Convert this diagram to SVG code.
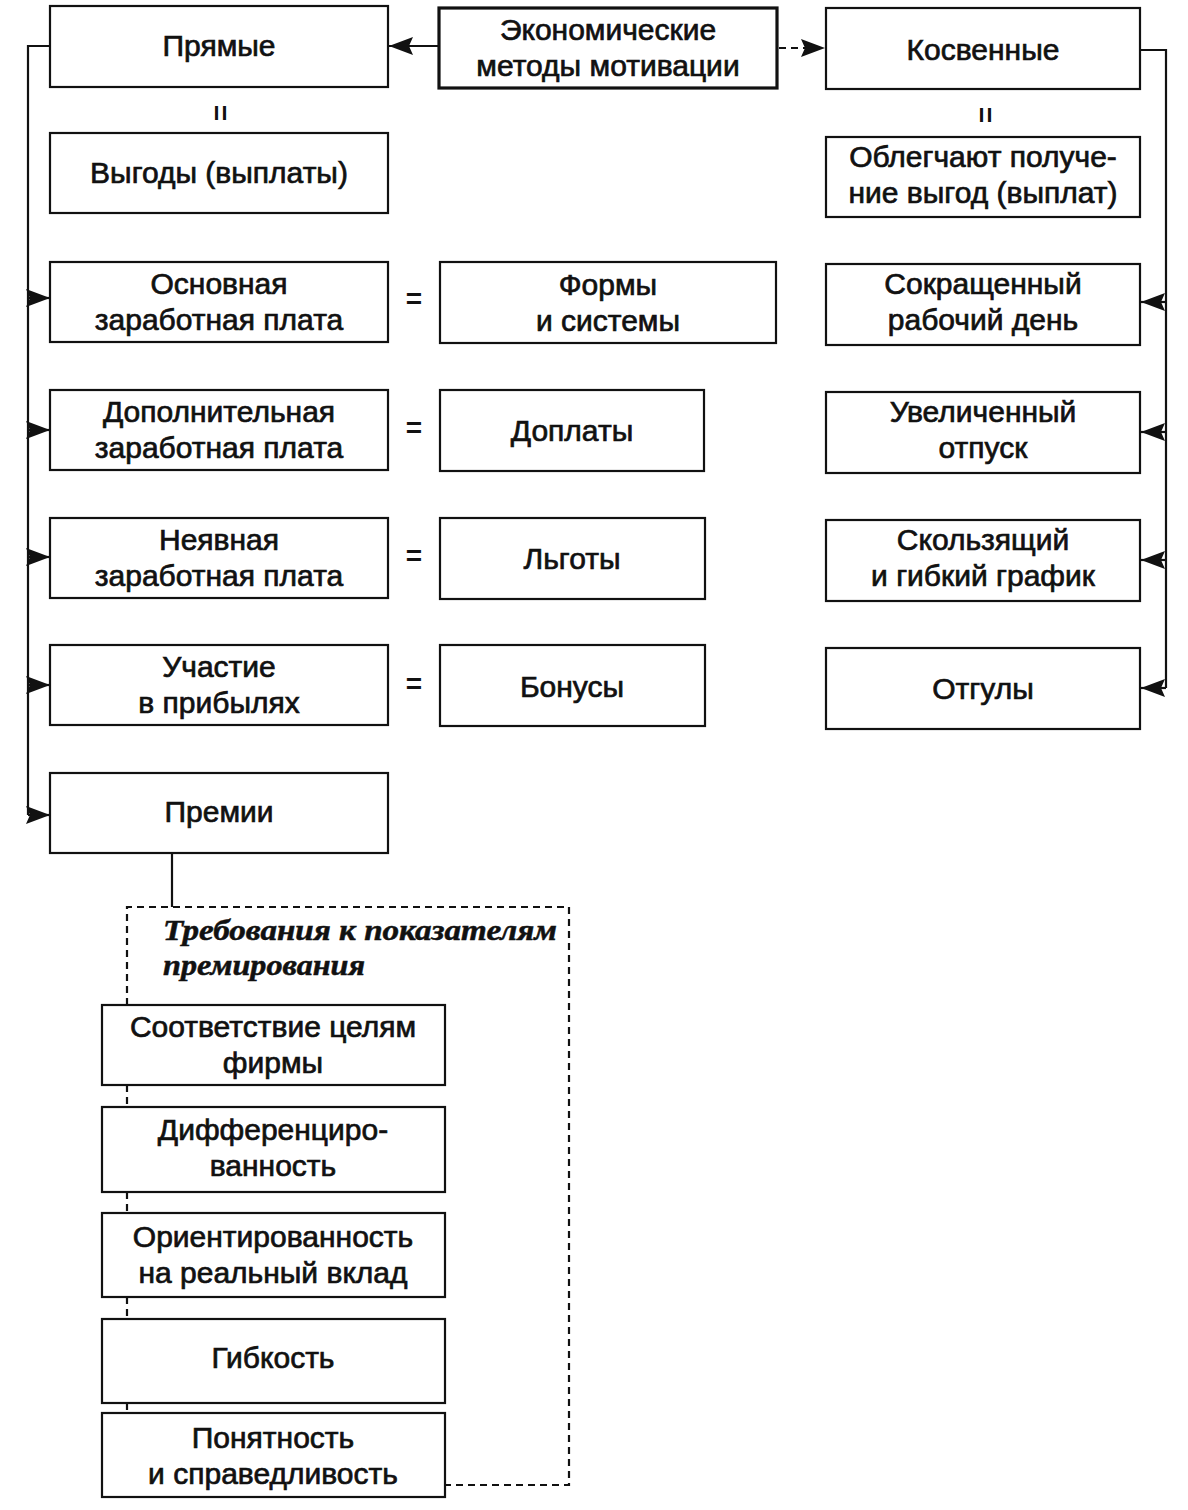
<svg xmlns="http://www.w3.org/2000/svg" width="1188" height="1510" viewBox="0 0 1188 1510">
<defs>
<style>
.box{fill:#fff;stroke:#111;stroke-width:2.2}
.main{fill:#fff;stroke:#111;stroke-width:3.2}
.t{font-family:"Liberation Sans",Arial,sans-serif;font-size:30px;fill:#111;stroke:#111;stroke-width:0.7;text-anchor:middle}
.h{font-family:"Liberation Serif","Times New Roman",serif;font-size:29px;font-weight:bold;font-style:italic;fill:#111;stroke:#111;stroke-width:0.5}
.ln{fill:none;stroke:#111;stroke-width:2.2}
.dash{fill:none;stroke:#111;stroke-width:2.2;stroke-dasharray:7 5}
.eq{font-family:"Liberation Sans",Arial,sans-serif;font-size:28px;font-weight:bold;fill:#111;text-anchor:middle}
</style>
<marker id="ah" viewBox="0 0 24 18" refX="24" refY="9" markerWidth="24" markerHeight="18" markerUnits="userSpaceOnUse" orient="auto">
<path d="M0,0 L24,9 L0,18 L4,9 Z" fill="#111"/>
</marker>
</defs>

<g id="connectors">
<line class="ln" x1="438" y1="46" x2="389" y2="46" marker-end="url(#ah)"/>
<line class="dash" x1="779" y1="48" x2="825" y2="48" marker-end="url(#ah)"/>
<polyline class="ln" points="50,46 28,46 28,815"/>
<line class="ln" x1="28" y1="298" x2="50" y2="298" marker-end="url(#ah)"/>
<line class="ln" x1="28" y1="430" x2="50" y2="430" marker-end="url(#ah)"/>
<line class="ln" x1="28" y1="557" x2="50" y2="557" marker-end="url(#ah)"/>
<line class="ln" x1="28" y1="685" x2="50" y2="685" marker-end="url(#ah)"/>
<line class="ln" x1="28" y1="815" x2="50" y2="815" marker-end="url(#ah)"/>
<polyline class="ln" points="1140,50 1166,50 1166,688"/>
<line class="ln" x1="1166" y1="302" x2="1141" y2="302" marker-end="url(#ah)"/>
<line class="ln" x1="1166" y1="432" x2="1141" y2="432" marker-end="url(#ah)"/>
<line class="ln" x1="1166" y1="560" x2="1141" y2="560" marker-end="url(#ah)"/>
<line class="ln" x1="1166" y1="688" x2="1141" y2="688" marker-end="url(#ah)"/>
<line class="ln" x1="172" y1="853" x2="172" y2="907"/>
<polyline class="dash" points="127,1005 127,907 569,907 569,1485 446,1485"/>
<line class="dash" x1="127" y1="1085" x2="127" y2="1107"/>
<line class="dash" x1="127" y1="1192" x2="127" y2="1213"/>
<line class="dash" x1="127" y1="1297" x2="127" y2="1319"/>
<line class="dash" x1="127" y1="1403" x2="127" y2="1413"/>
</g>

<g id="equals">
<text class="eq" transform="translate(221,113) rotate(90)" y="10">=</text>
<text class="eq" transform="translate(986,115) rotate(90)" y="10">=</text>
<text class="eq" x="414" y="308">=</text>
<text class="eq" x="414" y="437">=</text>
<text class="eq" x="414" y="565">=</text>
<text class="eq" x="414" y="693">=</text>
</g>

<g id="n-main"><rect class="main" x="439" y="8" width="338" height="80"/>
<text class="t" x="608" y="40">Экономические</text><text class="t" x="608" y="76">методы мотивации</text></g>

<g id="n-pryamye"><rect class="box" x="50" y="6" width="338" height="81"/><text class="t" x="219" y="56">Прямые</text></g>
<g id="n-vygody"><rect class="box" x="50" y="133" width="338" height="80"/><text class="t" x="219" y="183">Выгоды (выплаты)</text></g>
<g id="n-kosvennye"><rect class="box" x="826" y="8" width="314" height="81"/><text class="t" x="983" y="60">Косвенные</text></g>
<g id="n-oblegchayut"><rect class="box" x="826" y="137" width="314" height="80"/>
<text class="t" x="983" y="167">Облегчают получе-</text><text class="t" x="983" y="203">ние выгод (выплат)</text></g>

<g id="n-osnovnaya"><rect class="box" x="50" y="262" width="338" height="80"/>
<text class="t" x="219" y="294">Основная</text><text class="t" x="219" y="330">заработная плата</text></g>
<g id="n-dopolnitelnaya"><rect class="box" x="50" y="390" width="338" height="80"/>
<text class="t" x="219" y="422">Дополнительная</text><text class="t" x="219" y="458">заработная плата</text></g>
<g id="n-neyavnaya"><rect class="box" x="50" y="518" width="338" height="80"/>
<text class="t" x="219" y="550">Неявная</text><text class="t" x="219" y="586">заработная плата</text></g>
<g id="n-uchastie"><rect class="box" x="50" y="645" width="338" height="80"/>
<text class="t" x="219" y="677">Участие</text><text class="t" x="219" y="713">в прибылях</text></g>
<g id="n-premii"><rect class="box" x="50" y="773" width="338" height="80"/><text class="t" x="219" y="822">Премии</text></g>

<g id="n-formy"><rect class="box" x="440" y="262" width="336" height="81"/>
<text class="t" x="608" y="295">Формы</text><text class="t" x="608" y="331">и системы</text></g>
<g id="n-doplaty"><rect class="box" x="440" y="390" width="264" height="81"/><text class="t" x="572" y="441">Доплаты</text></g>
<g id="n-lgoty"><rect class="box" x="440" y="518" width="265" height="81"/><text class="t" x="572" y="569">Льготы</text></g>
<g id="n-bonusy"><rect class="box" x="440" y="645" width="265" height="81"/><text class="t" x="572" y="697">Бонусы</text></g>

<g id="n-sokrashchenny"><rect class="box" x="826" y="264" width="314" height="81"/>
<text class="t" x="983" y="294">Сокращенный</text><text class="t" x="983" y="330">рабочий день</text></g>
<g id="n-uvelichenny"><rect class="box" x="826" y="392" width="314" height="81"/>
<text class="t" x="983" y="422">Увеличенный</text><text class="t" x="983" y="458">отпуск</text></g>
<g id="n-skolzyashchiy"><rect class="box" x="826" y="520" width="314" height="81"/>
<text class="t" x="983" y="550">Скользящий</text><text class="t" x="983" y="586">и гибкий график</text></g>
<g id="n-otguly"><rect class="box" x="826" y="648" width="314" height="81"/><text class="t" x="983" y="699">Отгулы</text></g>

<g id="n-trebovaniya">
<text class="h" x="163" y="940" textLength="394" lengthAdjust="spacingAndGlyphs">Требования к показателям</text>
<text class="h" x="163" y="975" textLength="202" lengthAdjust="spacingAndGlyphs">премирования</text>
</g>
<g id="n-sootvetstvie"><rect class="box" x="102" y="1005" width="343" height="80"/>
<text class="t" x="273" y="1037">Соответствие целям</text><text class="t" x="273" y="1073">фирмы</text></g>
<g id="n-differ"><rect class="box" x="102" y="1107" width="343" height="85"/>
<text class="t" x="273" y="1140">Дифференциро-</text><text class="t" x="273" y="1176">ванность</text></g>
<g id="n-orient"><rect class="box" x="102" y="1213" width="343" height="84"/>
<text class="t" x="273" y="1247">Ориентированность</text><text class="t" x="273" y="1283">на реальный вклад</text></g>
<g id="n-gibkost"><rect class="box" x="102" y="1319" width="343" height="84"/><text class="t" x="273" y="1368">Гибкость</text></g>
<g id="n-ponyatnost"><rect class="box" x="102" y="1413" width="343" height="84"/>
<text class="t" x="273" y="1448">Понятность</text><text class="t" x="273" y="1484">и справедливость</text></g>
</svg>
